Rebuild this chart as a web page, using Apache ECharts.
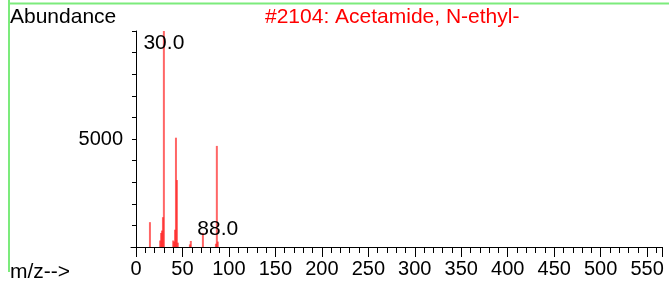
<!DOCTYPE html>
<html>
<head>
<meta charset="utf-8">
<script src="https://cdn.jsdelivr.net/npm/echarts@6/dist/echarts.min.js"></script>
<style>
  html, body { margin: 0; padding: 0; background: #fff; }
  #chart { width: 669px; height: 283px; }
</style>
</head>
<body>
<div id="chart"></div>
<script>
// mass spectrum peaks
const mz = [15, 26, 27, 28, 29, 30, 40, 41, 42, 43, 44, 45, 58, 59, 72, 86, 87, 88]
const abundance = [1150, 300, 650, 760, 1380, 10000, 300, 250, 800, 5060, 3100, 200, 120, 280, 650, 150, 4680, 250]
const labelledPeaks = { 30: 'insideTop', 88: 'top' }

const titleText = '#2104: Acetamide, N-ethyl-'
const yName = 'Abundance'
const xName = 'm/z-->'

const font = 'Liberation Sans, Arial, sans-serif'
const peakColor = 'rgba(255, 30, 30, 0.68)'
const green = '#7CEB7C'

const peakData = mz.map((m, i) => {
  const item = { value: [m, abundance[i]] }
  if (labelledPeaks[m]) {
    item.label = {
      show: true,
      position: labelledPeaks[m],
      distance: labelledPeaks[m] === 'top' ? 2 : 2,
      formatter: p => p.value[0].toFixed(1),
      color: '#000',
      fontSize: 21,
      fontFamily: font
    }
  }
  return item
})

const myChart = echarts.init(document.getElementById('chart'), null, { renderer: 'canvas' })
const option = {
  animation: false,
  backgroundColor: '#fff',
  title: [
    { text: yName, left: 10, top: 7, padding: 0,
      textStyle: { fontSize: 21, fontWeight: 'normal', color: '#000', fontFamily: font } },
    { text: titleText, left: 265, top: 7, padding: 0,
      textStyle: { fontSize: 21, fontWeight: 'normal', color: '#ff0000', fontFamily: font } },
    { text: xName, left: 10, top: 262, padding: 0,
      textStyle: { fontSize: 21, fontWeight: 'normal', color: '#000', fontFamily: font } }
  ],
  graphic: [
    { type: 'line', shape: { x1: 8, y1: 3.5, x2: 669, y2: 3.5 }, style: { stroke: green, lineWidth: 2 } },
    { type: 'line', shape: { x1: 9, y1: 0, x2: 9, y2: 272 }, style: { stroke: green, lineWidth: 2 } }
  ],
  grid: [
    { left: 131, right: 7, top: 31, bottom: 36 },
    { left: 136, right: 7, top: 31, bottom: 36 }
  ],
  xAxis: [
    {
      gridIndex: 0, type: 'value', min: -5.38, max: 566,
      axisLine: { show: true, lineStyle: { color: '#000', width: 1 } },
      axisTick: { show: false }, axisLabel: { show: false }, splitLine: { show: false }
    },
    {
      gridIndex: 1, type: 'value', min: 0, max: 566, interval: 50,
      axisLine: { show: false },
      axisTick: { show: true, length: 10, lineStyle: { color: '#000' } },
      minorTick: { show: true, splitNumber: 5, length: 6, lineStyle: { color: '#000' } },
      axisLabel: { fontSize: 20, color: '#000', fontFamily: font, margin: 12, showMaxLabel: false },
      splitLine: { show: false }
    }
  ],
  yAxis: [
    {
      gridIndex: 0, type: 'value', min: 0, max: 10000, interval: 5000,
      axisLine: { show: true, lineStyle: { color: '#000', width: 1 } },
      axisTick: { show: true, length: 4, lineStyle: { color: '#000' } },
      minorTick: { show: true, splitNumber: 5, length: 4, lineStyle: { color: '#000' } },
      axisLabel: { fontSize: 20, color: '#000', fontFamily: font, margin: 8,
        showMinLabel: false, showMaxLabel: false, formatter: v => String(v) },
      splitLine: { show: false }
    },
    { gridIndex: 1, type: 'value', min: 0, max: 10000, show: false }
  ],
  series: [
    {
      type: 'bar',
      xAxisIndex: 0,
      yAxisIndex: 0,
      barWidth: 2,
      itemStyle: { color: peakColor },
      data: peakData
    }
  ]
}
myChart.setOption(option)
</script>
</body>
</html>
